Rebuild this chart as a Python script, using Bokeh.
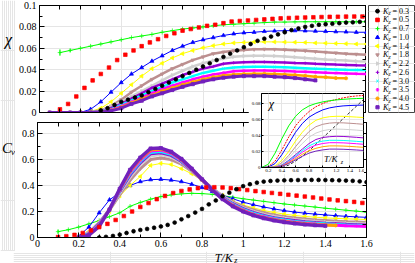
import numpy as np
from bokeh.plotting import figure
from bokeh.layouts import column, row
from bokeh.models import Range1d, FixedTicker, LinearAxis, ColumnDataSource
from bokeh.embed import file_html
from bokeh.resources import INLINE
from bokeh.core.properties import value

N = None
FONT = "Liberation Serif"

# ---------------- data ----------------
kz_values = ["0.3", "0.5", "0.7", "1.0", "1.4", "1.8", "2.2", "2.6", "3.0", "3.5", "4.0", "4.5"]

T_dense = [0.05, 0.10, 0.15, 0.20, 0.25, 0.30, 0.35, 0.40, 0.45, 0.50, 0.55, 0.60, 0.65, 0.70, 0.75, 0.80,
           0.85, 0.90, 0.95, 1.00, 1.05, 1.10, 1.15, 1.20, 1.25, 1.30, 1.35, 1.40, 1.45, 1.50, 1.55, 1.60]
T_black = [0.300, 0.333, 0.367, 0.400, 0.433, 0.467, 0.500, 0.533, 0.567, 0.600, 0.633, 0.667, 0.700, 0.733,
           0.767, 0.800, 0.833, 0.867, 0.900, 0.933, 0.967, 1.000, 1.033, 1.067, 1.100, 1.133, 1.167, 1.200,
           1.233, 1.267, 1.300, 1.333, 1.367, 1.400, 1.433, 1.467, 1.500, 1.533, 1.567, 1.600]
T_red = [0.10, 0.14, 0.18, 0.22, 0.26, 0.30, 0.34, 0.38, 0.42, 0.46, 0.50, 0.54, 0.58, 0.62, 0.66, 0.70, 0.74,
         0.78, 0.82, 0.86, 0.90, 0.94, 0.98, 1.02, 1.06, 1.10, 1.14, 1.18, 1.22, 1.26, 1.30, 1.34, 1.38, 1.42,
         1.46, 1.50, 1.54, 1.58]
T_inset = [0.1, 0.2, 0.3, 0.4, 0.5, 0.6, 0.7, 0.8, 0.9, 1.0, 1.1, 1.2, 1.3, 1.4, 1.5, 1.6]

# susceptibility chi
chi_03 = [0.002, 0.004, 0.007, 0.010, 0.012, 0.014, 0.016, 0.019, 0.022, 0.025, 0.028, 0.031, 0.034, 0.037,
          0.040, 0.043, 0.046, 0.049, 0.052, 0.055, 0.058, 0.061, 0.064, 0.067, 0.069, 0.071, 0.073, 0.075,
          0.077, 0.0785, 0.080, 0.081, 0.082, 0.0825, 0.083, 0.0835, 0.084, 0.0843, 0.0847, 0.085]
chi_05 = [0.003, 0.008, 0.015, 0.023, 0.030, 0.036, 0.042, 0.049, 0.054, 0.058, 0.062, 0.0655, 0.0685, 0.0715,
          0.074, 0.0765, 0.078, 0.0795, 0.081, 0.082, 0.0835, 0.085, 0.0855, 0.086, 0.0865, 0.087, 0.0875, 0.088,
          0.0883, 0.0886, 0.0888, 0.089, 0.0892, 0.0894, 0.0895, 0.0896, 0.0897, 0.0897]
chi_07 = [N, 0.056, 0.058, 0.060, 0.062, 0.064, 0.066, 0.068, 0.070, 0.0715, 0.073, 0.075, 0.0765, 0.078, 0.079,
          0.080, 0.081, 0.082, 0.0825, 0.083, 0.0835, 0.084, 0.0845, 0.0845, 0.0847, 0.0848, 0.0848, 0.0848,
          0.0848, 0.0848, 0.0848, 0.0848]
chi_10 = [N, N, N, 0.0, 0.003, 0.010, 0.019, 0.028, 0.036, 0.042, 0.048, 0.053, 0.058, 0.062, 0.0655, 0.068,
          0.070, 0.072, 0.0735, 0.0745, 0.075, 0.0758, 0.0762, 0.0765, 0.0765, 0.0763, 0.076, 0.0758, 0.0755,
          0.0753, 0.075, 0.075]
chi_14 = [N, N, N, 0.0, 0.001, 0.004, 0.010, 0.018, 0.026, 0.034, 0.041, 0.046, 0.051, 0.055, 0.058, 0.0605,
          0.0625, 0.064, 0.065, 0.0655, 0.066, 0.066, 0.066, 0.0658, 0.0656, 0.0654, 0.065, 0.0648, 0.0645,
          0.0643, 0.064, 0.064]
chi_18 = [0.0, 0.0, 0.0, 0.0, 0.0005, 0.002, 0.006, 0.012, 0.019, 0.025, 0.031, 0.036, 0.041, 0.045, 0.049,
          0.052, 0.055, 0.0565, 0.0578, 0.0585, 0.059, 0.0592, 0.059, 0.0587, 0.0582, 0.0577, 0.057, 0.0563,
          0.0557, 0.055, 0.0545, 0.054]
chi_22 = [0.0, 0.0, 0.0, 0.0, 0.0003, 0.0015, 0.005, 0.010, 0.015, 0.020, 0.025, 0.030, 0.035, 0.039, 0.043,
          0.046, 0.0485, 0.0505, 0.052, 0.0527, 0.053, 0.053, 0.0528, 0.0523, 0.0517, 0.051, 0.0503, 0.0496,
          0.049, 0.0485, 0.048, 0.0477]
chi_26 = [0.0, 0.0, 0.0, 0.0, 0.0, 0.001, 0.004, 0.008, 0.013, 0.018, 0.023, 0.027, 0.031, 0.035, 0.038, 0.041,
          0.043, 0.0455, 0.0465, 0.047, 0.0472, 0.0472, 0.047, 0.0467, 0.0463, 0.046, 0.0455, 0.0452, 0.0448,
          0.0445, 0.0442, 0.044]
chi_30 = [0.0, 0.0, 0.0, 0.0, 0.0, 0.001, 0.003, 0.007, 0.011, 0.016, 0.020, 0.024, 0.028, 0.031, 0.034, 0.037,
          0.039, 0.041, 0.042, 0.0425, 0.0427, 0.0427, 0.0425, 0.0422, 0.0418, 0.0414, 0.041, 0.0406, 0.0403,
          0.040, 0.0398, 0.0397]
chi_35 = [0.0, 0.0, 0.0, 0.0, 0.0, 0.0008, 0.0025, 0.006, 0.010, 0.014, 0.018, 0.022, 0.025, 0.028, 0.031,
          0.0335, 0.0355, 0.037, 0.0385, 0.039, 0.0392, 0.0392, 0.039, 0.0387, 0.0383, 0.038, 0.0376, 0.0372,
          0.0368, 0.0365, 0.0362, 0.036]
chi_40 = [0.0, 0.0, 0.0, 0.0, 0.0, 0.0006, 0.002, 0.005, 0.009, 0.013, 0.016, 0.020, 0.023, 0.026, 0.0285,
          0.031, 0.033, 0.0345, 0.0355, 0.036, 0.0362, 0.0362, 0.036, 0.0355, 0.035, 0.0343, 0.0335, 0.033,
          0.0322, 0.032, N, N]
chi_45 = [0.0, 0.0, 0.0, 0.0, 0.0, 0.0004, 0.0015, 0.004, 0.008, 0.011, 0.015, 0.018, 0.021, 0.024, 0.0265,
          0.029, 0.031, 0.0325, 0.0335, 0.034, 0.034, 0.034, 0.0335, 0.033, 0.0322, 0.031, 0.030, N, N, N, N, N]
chi_07_err = [0, 0.003, 0.0015, 0, 0, 0, 0, 0, 0, 0, 0, 0, 0, 0, 0, 0, 0, 0, 0, 0, 0, 0, 0, 0, 0, 0, 0, 0, 0, 0, 0, 0]

# specific heat Cv
cv_03 = [0.000, 0.005, 0.012, 0.022, 0.035, 0.048, 0.058, 0.066, 0.075, 0.085, 0.097, 0.115, 0.140, 0.165,
         0.192, 0.220, 0.255, 0.285, 0.318, 0.345, 0.372, 0.395, 0.410, 0.422, 0.430, 0.435, 0.438, 0.440,
         0.441, 0.442, 0.443, 0.443, 0.443, 0.442, 0.441, 0.440, 0.438, 0.436, 0.432, 0.426]
cv_05 = [0.003, 0.010, 0.020, 0.035, 0.055, 0.080, 0.105, 0.135, 0.165, 0.200, 0.235, 0.265, 0.295, 0.320,
         0.342, 0.358, 0.370, 0.380, 0.385, 0.387, 0.385, 0.380, 0.372, 0.365, 0.357, 0.350, 0.343, 0.336,
         0.329, 0.322, 0.315, 0.308, 0.300, 0.293, 0.286, 0.280, 0.274, 0.266]
cv_07 = [N, 0.045, 0.060, 0.080, 0.105, 0.130, 0.160, 0.190, 0.240, 0.270, 0.295, 0.315, 0.328, 0.336, 0.340,
         0.338, 0.332, 0.322, 0.310, 0.298, 0.288, 0.278, 0.268, 0.258, 0.250, 0.242, 0.234, 0.225, 0.218,
         0.210, 0.203, 0.195]
cv_10 = [N, N, N, 0.010, 0.080, 0.190, 0.290, 0.345, 0.400, 0.430, 0.445, 0.448, 0.442, 0.430, 0.410, 0.385,
         0.355, 0.325, 0.298, 0.272, 0.252, 0.235, 0.220, 0.207, 0.196, 0.187, 0.180, 0.174, 0.168, 0.163,
         0.159, 0.155]
cv_14 = [N, N, N, 0.0, 0.045, 0.120, 0.200, 0.320, 0.400, 0.470, 0.555, 0.570, 0.562, 0.530, 0.490, 0.440,
         0.380, 0.325, 0.280, 0.250, 0.228, 0.208, 0.193, 0.180, 0.170, 0.162, 0.156, 0.151, 0.147, 0.144,
         0.141, 0.138]
cv_18 = [N, N, N, 0.0, 0.040, 0.115, 0.210, 0.330, 0.440, 0.530, 0.600, 0.612, 0.600, 0.565, 0.510, 0.445,
         0.380, 0.320, 0.272, 0.238, 0.212, 0.190, 0.174, 0.160, 0.150, 0.142, 0.135, 0.130, 0.126, 0.122,
         0.119, 0.116]
cv_22 = [N, N, N, 0.0, 0.035, 0.110, 0.215, 0.345, 0.465, 0.560, 0.628, 0.638, 0.620, 0.578, 0.515, 0.445,
         0.375, 0.315, 0.265, 0.228, 0.200, 0.178, 0.162, 0.148, 0.138, 0.130, 0.123, 0.118, 0.114, 0.110,
         0.107, 0.104]
cv_26 = [N, N, N, 0.0, 0.030, 0.105, 0.215, 0.355, 0.480, 0.575, 0.645, 0.652, 0.632, 0.585, 0.518, 0.445,
         0.372, 0.310, 0.260, 0.222, 0.193, 0.170, 0.153, 0.140, 0.130, 0.122, 0.115, 0.110, 0.106, 0.102,
         0.099, 0.096]
cv_30 = [N, N, N, 0.0, 0.025, 0.100, 0.215, 0.360, 0.490, 0.585, 0.655, 0.662, 0.640, 0.590, 0.520, 0.445,
         0.370, 0.306, 0.255, 0.216, 0.187, 0.164, 0.147, 0.134, 0.124, 0.116, 0.110, 0.105, 0.101, 0.097,
         0.094, 0.091]
cv_35 = [N, N, N, 0.0, 0.022, 0.095, 0.215, 0.365, 0.500, 0.595, 0.665, 0.672, 0.648, 0.595, 0.522, 0.445,
         0.368, 0.302, 0.250, 0.210, 0.180, 0.158, 0.141, 0.128, 0.118, 0.110, 0.104, 0.099, 0.095, 0.091,
         0.088, 0.085]
cv_40 = [N, N, N, 0.0, 0.020, 0.090, 0.215, 0.370, 0.510, 0.605, 0.675, 0.680, 0.655, 0.600, 0.525, 0.445,
         0.366, 0.298, 0.245, 0.205, 0.175, 0.153, 0.136, 0.123, 0.113, 0.106, 0.100, 0.096, 0.093, N, N, N]
cv_45 = [N, N, N, 0.0, 0.018, 0.085, 0.215, 0.375, 0.520, 0.615, 0.685, 0.688, 0.660, 0.605, 0.530, 0.448,
         0.365, 0.295, 0.240, 0.200, 0.170, 0.148, 0.131, 0.118, 0.108, 0.100, 0.094, 0.090, N, N, N, N]
cv_07_err = [0, 0.015, 0.006, 0, 0, 0, 0, 0, 0, 0, 0, 0, 0, 0, 0, 0, 0, 0, 0, 0, 0, 0, 0, 0, 0, 0, 0, 0, 0, 0, 0, 0]

# inset chi curves
in_03 = [N, N, N, 0.0, 0.003, 0.008, 0.014, 0.021, 0.029, 0.037, 0.045, 0.053, 0.061, 0.069, 0.077, 0.085]
in_05 = [0.0, 0.001, 0.008, 0.022, 0.038, 0.052, 0.062, 0.070, 0.076, 0.080, 0.083, 0.085, 0.087, 0.0885, 0.0895, 0.090]
in_07 = [0.0, 0.004, 0.018, 0.036, 0.052, 0.064, 0.072, 0.077, 0.080, 0.082, 0.0835, 0.0845, 0.0852, 0.0858, 0.0862, 0.0865]
in_10 = [0.0, 0.0005, 0.005, 0.016, 0.030, 0.044, 0.055, 0.063, 0.068, 0.072, 0.0745, 0.076, 0.077, 0.0775, 0.0778, 0.078]
in_14 = [0.0, 0.0, 0.002, 0.009, 0.020, 0.033, 0.044, 0.053, 0.059, 0.062, 0.0635, 0.064, 0.064, 0.0635, 0.063, 0.0625]
in_18 = [0.0, 0.0, 0.001, 0.006, 0.015, 0.026, 0.036, 0.045, 0.051, 0.054, 0.0555, 0.056, 0.0558, 0.0553, 0.0547, 0.054]
in_22 = [0.0, 0.0, 0.0008, 0.005, 0.012, 0.021, 0.030, 0.038, 0.043, 0.046, 0.0475, 0.048, 0.0478, 0.0473, 0.0467, 0.046]
in_26 = [0.0, 0.0, 0.0005, 0.003, 0.009, 0.016, 0.023, 0.030, 0.035, 0.0375, 0.0385, 0.039, 0.0388, 0.0383, 0.0377, 0.037]
in_30 = [0.0, 0.0, 0.0004, 0.0027, 0.008, 0.0145, 0.021, 0.027, 0.031, 0.033, 0.034, 0.034, 0.0338, 0.0333, 0.0327, 0.032]
in_35 = [0.0, 0.0, 0.0003, 0.0022, 0.007, 0.013, 0.019, 0.0245, 0.028, 0.030, 0.031, 0.031, 0.0308, 0.0303, 0.0297, 0.029]
in_40 = [0.0, 0.0, 0.0002, 0.0018, 0.006, 0.011, 0.0165, 0.021, 0.024, 0.026, 0.027, 0.027, 0.0268, 0.0264, 0.0258, 0.0252]
in_45 = [0.0, 0.0, 0.0001, 0.0014, 0.005, 0.0095, 0.014, 0.018, 0.0205, 0.022, 0.023, 0.023, 0.0228, 0.0224, 0.0219, 0.0213]

# ticks
x_ticks = [0, 0.2, 0.4, 0.6, 0.8, 1.0, 1.2, 1.4, 1.6]
x_tick_labels = ["0", "0.2", "0.4", "0.6", "0.8", "1", "1.2", "1.4", "1.6"]
x_minor = [0.1, 0.3, 0.5, 0.7, 0.9, 1.1, 1.3, 1.5]
chi_ticks = [0, 0.02, 0.04, 0.06, 0.08, 0.1]
chi_tick_labels = ["0", "0.02", "0.04", "0.06", "0.08", "0.1"]
chi_minor = [0.01, 0.03, 0.05, 0.07, 0.09]
cv_ticks = [0, 0.2, 0.4, 0.6, 0.8]
cv_tick_labels = ["0", "0.2", "0.4", "0.6", "0.8"]
cv_minor = [0.1, 0.3, 0.5, 0.7]
in_x_ticks = [0.2, 0.4, 0.6, 0.8, 1.0, 1.2, 1.4, 1.6]
in_x_labels = ["0.2", "0.4", "0.6", "0.8", "1", "1.2", "1.4", "1.6"]
in_y_ticks = [0, 0.02, 0.04, 0.06, 0.08]
in_y_labels = ["0", "0.02", "0.04", "0.06", "0.08"]

# ---------------- styles ----------------
colors = ["#000000", "#ff0000", "#00ff00", "#0000ff", "#ffff00", "#bc8f8f",
          "#d0d0d0", "#9400d3", "#00ffff", "#ff00ff", "#ffa500", "#7221bc"]
markers = ["circle", "square", "cross", "triangle", "triangle", "inverted_triangle",
           "triangle", "cross", "x", "asterisk", "circle", "square"]
angles = [0, 0, 0, 0, np.pi / 2, 0, -np.pi / 2, 0, 0, 0, 0, 0]
msizes = [3.8, 3.6, 4.5, 4, 4, 3.5, 3.5, 3.5, 3.5, 3.5, 3.2, 3.2]
chi_lw = [0, 0, 1, 1, 1, 2.5, 2.5, 2.5, 2.5, 2.5, 2.5, 3]
cv_lw = [0, 0, 1, 1, 1, 3, 3, 3, 3, 3, 3, 3.5]

chi_series = [(T_black, chi_03), (T_red, chi_05), (T_dense, chi_07), (T_dense, chi_10), (T_dense, chi_14),
              (T_dense, chi_18), (T_dense, chi_22), (T_dense, chi_26), (T_dense, chi_30), (T_dense, chi_35),
              (T_dense, chi_40), (T_dense, chi_45)]
cv_series = [(T_black, cv_03), (T_red, cv_05), (T_dense, cv_07), (T_dense, cv_10), (T_dense, cv_14),
             (T_dense, cv_18), (T_dense, cv_22), (T_dense, cv_26), (T_dense, cv_30), (T_dense, cv_35),
             (T_dense, cv_40), (T_dense, cv_45)]
inset_series = [in_03, in_05, in_07, in_10, in_14, in_18, in_22, in_26, in_30, in_35, in_40, in_45]
draw_order = [2, 3, 4, 5, 6, 7, 8, 9, 10, 11, 1, 0]


def make_axis(ticks, minor, labels=None, size="10px", tin=5, tmin=3, standoff=3):
    ax = LinearAxis()
    ax.major_tick_out = 0
    ax.minor_tick_out = 0
    ax.axis_line_color = "black"
    ax.major_tick_line_color = "black"
    ax.minor_tick_line_color = "black"
    if labels is None:
        # mirror axis: ticks only, no label texts at all
        ax.ticker = FixedTicker(ticks=[], minor_ticks=sorted(list(ticks) + list(minor)))
        ax.minor_tick_in = 4
        ax.major_label_standoff = 0
    else:
        ax.ticker = FixedTicker(ticks=ticks, minor_ticks=minor)
        ax.major_tick_in = tin
        ax.minor_tick_in = tmin
        ax.major_label_overrides = {t: l for t, l in zip(ticks, labels)}
        ax.major_label_text_font = FONT
        ax.major_label_text_font_size = size
        ax.major_label_standoff = standoff
        ax.major_label_text_color = "black"
    return ax


def base_fig(**kw):
    p = figure(output_backend="svg", toolbar_location=None,
               x_axis_location=None, y_axis_location=None, **kw)
    p.outline_line_color = "black"
    p.outline_line_width = 1
    p.background_fill_color = "white"
    p.border_fill_color = "white"
    return p


def draw_series(p, series, lws, errs):
    for i in draw_order:
        xs = np.array(series[i][0], dtype=float)
        ys = np.array(series[i][1], dtype=float)
        if lws[i] > 0:
            p.line(xs, ys, line_color=colors[i], line_width=lws[i])
        if i == 2:
            e = np.array(errs, dtype=float)
            m = e > 0
            p.segment(x0=xs[m], y0=ys[m] - e[m], x1=xs[m], y1=ys[m] + e[m], line_color=colors[i], line_width=1)
        p.scatter(xs, ys, marker=markers[i], angle=angles[i], size=msizes[i],
                  fill_color=colors[i], line_color=colors[i], line_width=0.7)


x_rng = Range1d(0, 1.6)

# ---------------- left label strip ----------------
p_lab = base_fig(width=15, height=251, x_range=Range1d(0, 15), y_range=Range1d(251, 0),
                 min_border_left=0, min_border_right=0, min_border_top=0, min_border_bottom=0)
p_lab.outline_line_color = None
p_lab.text(x=[8], y=[39], text=["χ"], text_font=value(FONT), text_font_style="italic",
           text_font_size="16px", text_align="center", text_baseline="middle", text_color="black")
p_lab.text(x=[6.5], y=[147], text=["C"], text_font=value(FONT), text_font_style="italic",
           text_font_size="15px", text_align="center", text_baseline="middle", text_color="black")
p_lab.text(x=[10.5], y=[151], text=["v"], text_font=value(FONT), text_font_style="italic",
           text_font_size="9px", text_align="left", text_baseline="middle", text_color="black")

# ---------------- top panel: chi ----------------
p_chi = base_fig(width=351, height=122, x_range=x_rng, y_range=Range1d(0, 0.1),
                 min_border_left=22, min_border_right=0, min_border_top=5, min_border_bottom=0)
p_chi.add_layout(make_axis(chi_ticks, chi_minor, chi_tick_labels), "left")
p_chi.add_layout(make_axis(chi_ticks, chi_minor), "right")
p_chi.add_layout(make_axis(x_ticks, x_minor), "below")
p_chi.add_layout(make_axis(x_ticks, x_minor), "above")
draw_series(p_chi, chi_series, chi_lw, chi_07_err)

# ---------------- legend ----------------
p_leg = base_fig(width=49, height=122, x_range=Range1d(0, 47), y_range=Range1d(11.6, -0.65),
                 min_border_left=2, min_border_right=0, min_border_top=5, min_border_bottom=10)
p_leg.outline_line_color = "#444444"
rows = list(range(len(kz_values)))
leg_src = ColumnDataSource(dict(x=[9] * len(rows), y=rows, marker=markers, angle=angles,
                                color=colors, size=[min(s, 4) for s in msizes]))
p_leg.scatter(x="x", y="y", marker="marker", angle="angle", size="size",
              fill_color="color", line_color="color", source=leg_src)
p_leg.text(x=[14.5] * len(rows), y=rows, text=["K"] * len(rows), text_font=value(FONT),
           text_font_style="italic", text_font_size="8px", text_baseline="middle", text_color="black")
p_leg.text(x=[20] * len(rows), y=rows, text=["z"] * len(rows), text_font=value(FONT),
           text_font_style="italic", text_font_size="5.5px", text_baseline="middle", y_offset=2,
           text_color="black")
p_leg.text(x=[24] * len(rows), y=rows, text=["= " + k for k in kz_values], text_font=value(FONT),
           text_font_size="8px", text_baseline="middle", text_color="black")

# ---------------- bottom panel: Cv ----------------
p_cv = base_fig(width=400, height=129, x_range=x_rng, y_range=Range1d(0, 0.885),
                min_border_left=22, min_border_right=49, min_border_top=0, min_border_bottom=14)
p_cv.add_layout(make_axis(cv_ticks, cv_minor, cv_tick_labels), "left")
p_cv.add_layout(make_axis(cv_ticks, cv_minor), "right")
p_cv.add_layout(make_axis(x_ticks, x_minor, x_tick_labels, standoff=2), "below")
p_cv.add_layout(make_axis(x_ticks, x_minor), "above")
draw_series(p_cv, cv_series, cv_lw, cv_07_err)

# ---------------- x label strip ----------------
p_xlab = base_fig(width=415, height=12, x_range=Range1d(0, 415), y_range=Range1d(12, 0),
                  min_border_left=0, min_border_right=0, min_border_top=0, min_border_bottom=0)
p_xlab.outline_line_color = None
p_xlab.text(x=[217.5], y=[6], text=["T/K"], text_font=value(FONT), text_font_style="italic",
            text_font_size="12px", text_align="center", text_baseline="middle", text_color="black")
p_xlab.text(x=[228.5], y=[8.5], text=["z"], text_font=value(FONT), text_font_style="italic",
            text_font_size="8px", text_align="left", text_baseline="middle", text_color="black")

# ---------------- inset ----------------
p_in = base_fig(width=116, height=82, x_range=Range1d(0.1, 1.6), y_range=Range1d(0, 0.0925),
                min_border_left=11, min_border_right=1, min_border_top=1, min_border_bottom=7,
                styles={"position": "absolute", "left": "248px", "top": "92px",
                        "width": "116px", "height": "82px", "z-index": "10"})
p_in.add_layout(make_axis(in_y_ticks, [], in_y_labels, size="5px", tin=2, tmin=0, standoff=1), "left")
p_in.add_layout(make_axis(in_x_ticks, [], in_x_labels, size="5px", tin=2, tmin=0, standoff=1), "below")
for i, ys in enumerate(inset_series):
    arr = np.array(ys, dtype=float)
    if i == 0:
        p_in.line(T_inset, arr, line_color="black", line_width=0.8, line_dash="3 2")
    elif i == 1:
        p_in.line(T_inset, arr, line_color=colors[i], line_width=1, line_dash="2 1")
    else:
        p_in.line(T_inset, arr, line_color=colors[i], line_width=1)
p_in.text(x=[0.245], y=[0.080], text=["χ"], text_font=value(FONT), text_font_style="italic",
          text_font_size="12px", text_align="center", text_baseline="middle", text_color="black")
p_in.text(x=[1.12], y=[0.011], text=["T/K"], text_font=value(FONT), text_font_style="italic",
          text_font_size="9px", text_align="center", text_baseline="middle", text_color="black")
p_in.text(x=[1.265], y=[0.007], text=["z"], text_font=value(FONT), text_font_style="italic",
          text_font_size="6px", text_align="left", text_baseline="middle", text_color="black")

main = column(row(p_chi, p_leg), p_cv)
layout = column(row(p_lab, main), p_xlab, p_in, styles={"position": "relative"})

open("out.html", "w").write(file_html(layout, INLINE))
